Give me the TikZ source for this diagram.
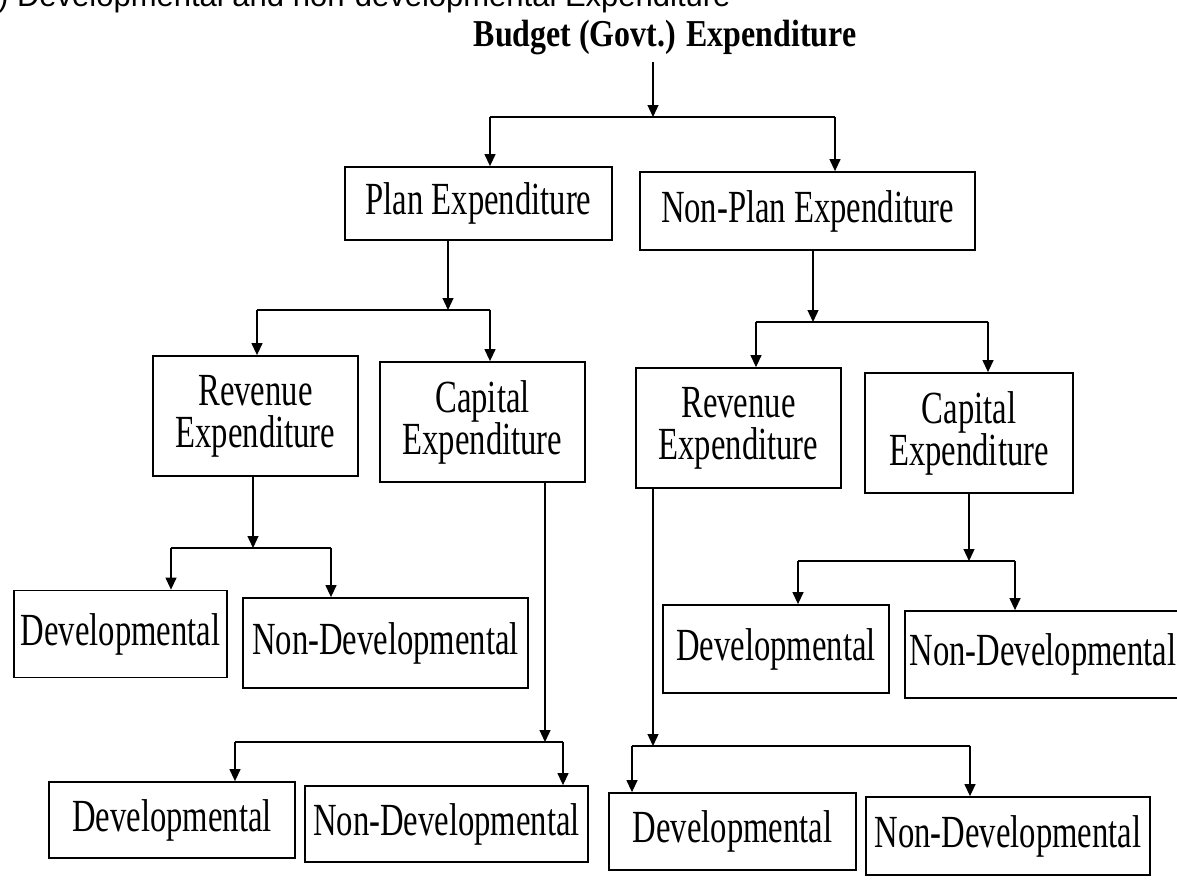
\documentclass[tikz,border=0pt]{standalone}
\usepackage{fontspec}
\setmainfont[FakeStretch=0.71]{Liberation Serif}
\newfontfamily\headfont[FakeStretch=0.84]{Liberation Serif}
\setsansfont{Liberation Sans}
\usetikzlibrary{positioning,arrows.meta}

\tikzset{
  box/.style={draw, line width=1.8pt, align=center, inner sep=0pt,
    font=\fontsize{46}{42}\selectfont},
  arr/.style={line width=1.3pt, -{Triangle[width=11pt,length=12pt]}},
  bar/.style={line width=1.5pt}
}

\begin{document}
\begin{tikzpicture}[x=1pt,y=-1pt]
\useasboundingbox (0,0) rectangle (1177,883);
\clip (0,0) rectangle (1177,883);

\node[anchor=base west, inner sep=0pt, font=\sffamily\fontsize{31}{31}\selectfont] (heading) at (-2,7) {) Developmental and non-developmental Expenditure};
\node[anchor=base, inner sep=0pt, font=\headfont\bfseries\fontsize{38}{40}\selectfont] (budget) at (665,47) {Budget (Govt.) Expenditure};

% boxes
\node[box, minimum width=267pt, minimum height=73pt] (plan) at (478.5,203.5) {Plan Expenditure};
\node[box, minimum width=335pt, minimum height=78pt] (nonplan) at (807.5,211) {Non-Plan Expenditure};

\node[box, minimum width=205pt, minimum height=120pt] (revL) at (255.5,416) {Revenue\\Expenditure};
\node[box, minimum width=205pt, minimum height=120pt] (capL) at (482.5,422) {Capital\\Expenditure};
\node[box, minimum width=205pt, minimum height=120pt] (revR) at (738.5,428) {Revenue\\Expenditure};
\node[box, minimum width=208pt, minimum height=120pt] (capR) at (969,433) {Capital\\Expenditure};

\node[box, minimum width=213pt, minimum height=87pt] (devLL) at (120.5,634) {Developmental};
\node[box, minimum width=285pt, minimum height=90pt] (nondevLL) at (385.5,643) {Non-Developmental};
\node[box, minimum width=226pt, minimum height=88pt] (devR) at (776,649) {Developmental};
\node[box, minimum width=276pt, minimum height=87pt] (nondevR) at (1043,654.5) {Non-Developmental};

\node[box, minimum width=246pt, minimum height=76pt] (devBL) at (172,820) {Developmental};
\node[box, minimum width=283pt, minimum height=76pt] (nondevBL) at (446.5,824) {Non-Developmental};
\node[box, minimum width=247pt, minimum height=77pt] (devBR) at (732.5,831.5) {Developmental};
\node[box, minimum width=284pt, minimum height=78pt] (nondevBR) at (1008,836) {Non-Developmental};

% budget -> plan / non-plan
\coordinate (p0) at (653,117);
\draw[arr] (p0 |- 0,62) -- (p0);
\draw[bar] (490,117) coordinate (p0a) -- (835,117) coordinate (p0b);
\draw[arr] (p0a) -- (p0a |- plan.north);
\draw[arr] (p0b) -- (p0b |- nonplan.north);

% plan -> revenue / capital
\coordinate (q1) at (448,310);
\draw[arr] (q1 |- plan.south) -- (q1);
\draw[bar] (257,310) coordinate (q1a) -- (490,310) coordinate (q1b);
\draw[arr] (q1a) -- (q1a |- revL.north);
\draw[arr] (q1b) -- (q1b |- capL.north);

% non-plan -> revenue / capital
\coordinate (q2) at (813,322);
\draw[arr] (q2 |- nonplan.south) -- (q2);
\draw[bar] (756,322) coordinate (q2a) -- (988,322) coordinate (q2b);
\draw[arr] (q2a) -- (q2a |- revR.north);
\draw[arr] (q2b) -- (q2b |- capR.north);

% plan revenue
\coordinate (q3) at (253,548);
\draw[arr] (q3 |- revL.south) -- (q3);
\draw[bar] (171,548) coordinate (q3a) -- (331,548) coordinate (q3b);
\draw[arr] (q3a) -- (q3a |- devLL.north);
\draw[arr] (q3b) -- (q3b |- nondevLL.north);

% plan capital
\coordinate (q4) at (545,742);
\draw[arr] (q4 |- capL.south) -- (q4);
\draw[bar] (235,742) coordinate (q4a) -- (563,742) coordinate (q4b);
\draw[arr] (q4a) -- (q4a |- devBL.north);
\draw[arr] (q4b) -- (q4b |- nondevBL.north);

% non-plan revenue
\coordinate (q5) at (653,746);
\draw[arr] (q5 |- revR.south) -- (q5);
\draw[bar] (632,746) coordinate (q5a) -- (970,746) coordinate (q5b);
\draw[arr] (q5a) -- (q5a |- devBR.north);
\draw[arr] (q5b) -- (q5b |- nondevBR.north);

% non-plan capital
\coordinate (q6) at (969,561);
\draw[arr] (q6 |- capR.south) -- (q6);
\draw[bar] (798,561) coordinate (q6a) -- (1015,561) coordinate (q6b);
\draw[arr] (q6a) -- (q6a |- devR.north);
\draw[arr] (q6b) -- (q6b |- nondevR.north);

\end{tikzpicture}
\end{document}
